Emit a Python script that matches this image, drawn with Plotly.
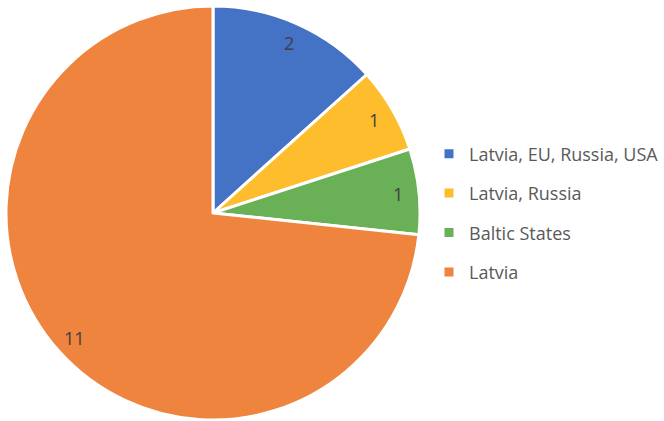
import math
import plotly.graph_objects as go

# Slice data
categories = ["Latvia, EU, Russia, USA", "Latvia, Russia", "Baltic States", "Latvia"]
counts = [2, 1, 1, 11]
colors = ["#4472C4", "#FDBD2D", "#69B056", "#EF843E"]

W, H = 664, 421
cx, cy, R = 213, 213, 207          # pie centre and radius in pixels
label_r = 0.9                      # data labels sit near the rim
FONT = "Open Sans, Liberation Sans, sans-serif"

fig = go.Figure()

fig.add_trace(go.Pie(
    labels=categories,
    values=counts,
    sort=False,
    direction="clockwise",
    rotation=0,
    marker=dict(colors=colors, line=dict(color="white", width=3)),
    textinfo="none",
    hoverinfo="label+value",
    showlegend=False,
    domain=dict(x=[(cx - R) / W, (cx + R) / W],
                y=[1 - (cy + R) / H, 1 - (cy - R) / H]),
))

# Data labels placed at the middle angle of each slice
total = sum(counts)
cum = 0
for v in counts:
    mid = (cum + v / 2) / total * 2 * math.pi
    cum += v
    px = cx + label_r * R * math.sin(mid)
    py = cy - label_r * R * math.cos(mid)
    fig.add_annotation(
        x=px / W, y=1 - py / H, xref="paper", yref="paper",
        xanchor="center", yanchor="middle",
        text=str(v), showarrow=False,
        font=dict(family=FONT, size=18, color="#404040"),
    )

# Legend entries, one group each for even spacing
for i, (name, c) in enumerate(zip(categories, colors)):
    fig.add_trace(go.Scatter(
        x=[None], y=[None], mode="markers", name=name,
        legendgroup=f"g{i}",
        marker=dict(symbol="square", size=9, color=c),
        hoverinfo="skip",
    ))

fig.update_layout(
    width=W, height=H,
    margin=dict(l=0, r=0, t=0, b=0, autoexpand=False),
    paper_bgcolor="white", plot_bgcolor="white",
    xaxis=dict(visible=False), yaxis=dict(visible=False),
    legend=dict(
        x=429 / W, y=1 - 213 / H, xanchor="left", yanchor="middle",
        font=dict(family=FONT, size=18, color="#595959"),
        tracegroupgap=13, itemwidth=30,
        bgcolor="rgba(0,0,0,0)",
    ),
)

fig.write_html("out.html")
